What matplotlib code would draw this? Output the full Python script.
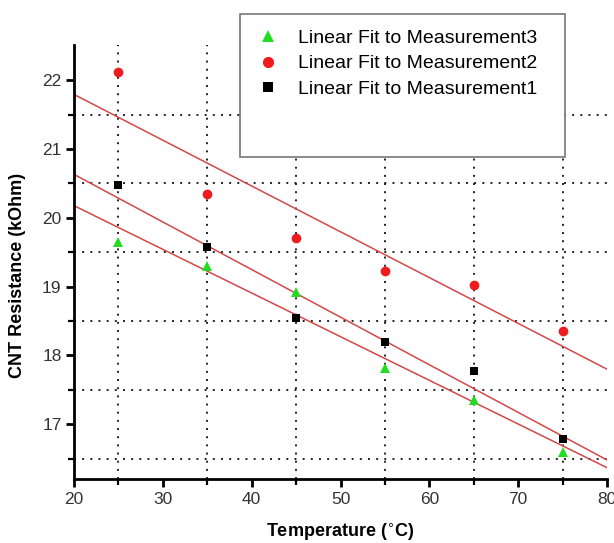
import numpy as np
import matplotlib
matplotlib.use("Agg")
import matplotlib.pyplot as plt
from matplotlib.patches import Rectangle

plt.rcParams['font.family'] = ['Liberation Sans', 'DejaVu Sans']

temperature = [25, 35, 45, 55, 65, 75]
measurement1 = [20.47, 19.57, 18.55, 18.20, 17.77, 16.78]
measurement2 = [22.12, 20.35, 19.70, 19.23, 19.03, 18.35]
measurement3 = [19.65, 19.30, 18.92, 17.82, 17.35, 16.60]
labels = ["Linear Fit to Measurement3", "Linear Fit to Measurement2", "Linear Fit to Measurement1"]

W, H = 614, 543
fig = plt.figure(figsize=(W / 100, H / 100), dpi=100)
ax = fig.add_axes([74 / W, 1 - 479 / H, (607 - 74) / W, (479 - 45) / H])
ax.set_xlim(20, 80)
ax.set_ylim(16.206, 22.51)

# dotted grid at minor positions
ax.set_xticks(np.arange(20, 81, 10))
ax.set_xticks(np.arange(25, 80, 10), minor=True)
ax.set_yticks(np.arange(17, 23, 1))
ax.set_yticks(np.arange(16.5, 22.1, 1), minor=True)
ax.grid(which='minor', color='#222222', linestyle=(0, (1, 3.2)), linewidth=1.4, zorder=0)
ax.grid(which='major', visible=False)

# fit lines
xfit = np.array([20, 80])
line_color = '#d24848'
for data in (measurement1, measurement2, measurement3):
    p = np.polyfit(temperature, data, 1)
    ax.plot(xfit, np.polyval(p, xfit), color=line_color, linewidth=1.1, zorder=2)

h3 = ax.plot(temperature, measurement3, linestyle='none', marker='^', markersize=7.5,
             color='#22dd22', markeredgewidth=0, zorder=3)[0]
h2 = ax.plot(temperature, measurement2, linestyle='none', marker='o', markersize=7,
             color='#ee1c1c', markeredgewidth=0, zorder=3)[0]
h1 = ax.plot(temperature, measurement1, linestyle='none', marker='s', markersize=6,
             color='black', markeredgewidth=0, zorder=3)[0]

for s in ['top', 'right']:
    ax.spines[s].set_visible(False)
for s in ['left', 'bottom']:
    ax.spines[s].set_linewidth(2.0)
ax.tick_params(which='major', direction='out', length=6, width=2, labelsize=12.5,
               colors='black', labelcolor='#333333', pad=3)
ax.tick_params(which='minor', direction='out', length=4, width=1.6)

ax.set_xlabel('Temperature ($^{\\circ}$C)', fontsize=13, fontweight='bold', labelpad=11)
ax.set_ylabel('CNT Resistance (kOhm)', fontsize=13, fontweight='bold', labelpad=12)
ax.yaxis.set_label_coords(-0.09, 0.47)

# legend box
box = Rectangle((240 / W, 1 - 157 / H), (565 - 240) / W, (157 - 14) / H,
                transform=fig.transFigure, facecolor='white', edgecolor='#777777',
                linewidth=1.2, zorder=5)
fig.patches.append(box)
leg = fig.legend([h3, h2, h1], labels, loc='upper left',
                 bbox_to_anchor=(253 / W, 1 - 29 / H), frameon=False,
                 fontsize=14, handletextpad=0.82, labelspacing=0.42,
                 handlelength=1.5, borderaxespad=0, borderpad=0, markerscale=1.15)
leg.set_zorder(6)

fig.savefig('out.png', dpi=100)
